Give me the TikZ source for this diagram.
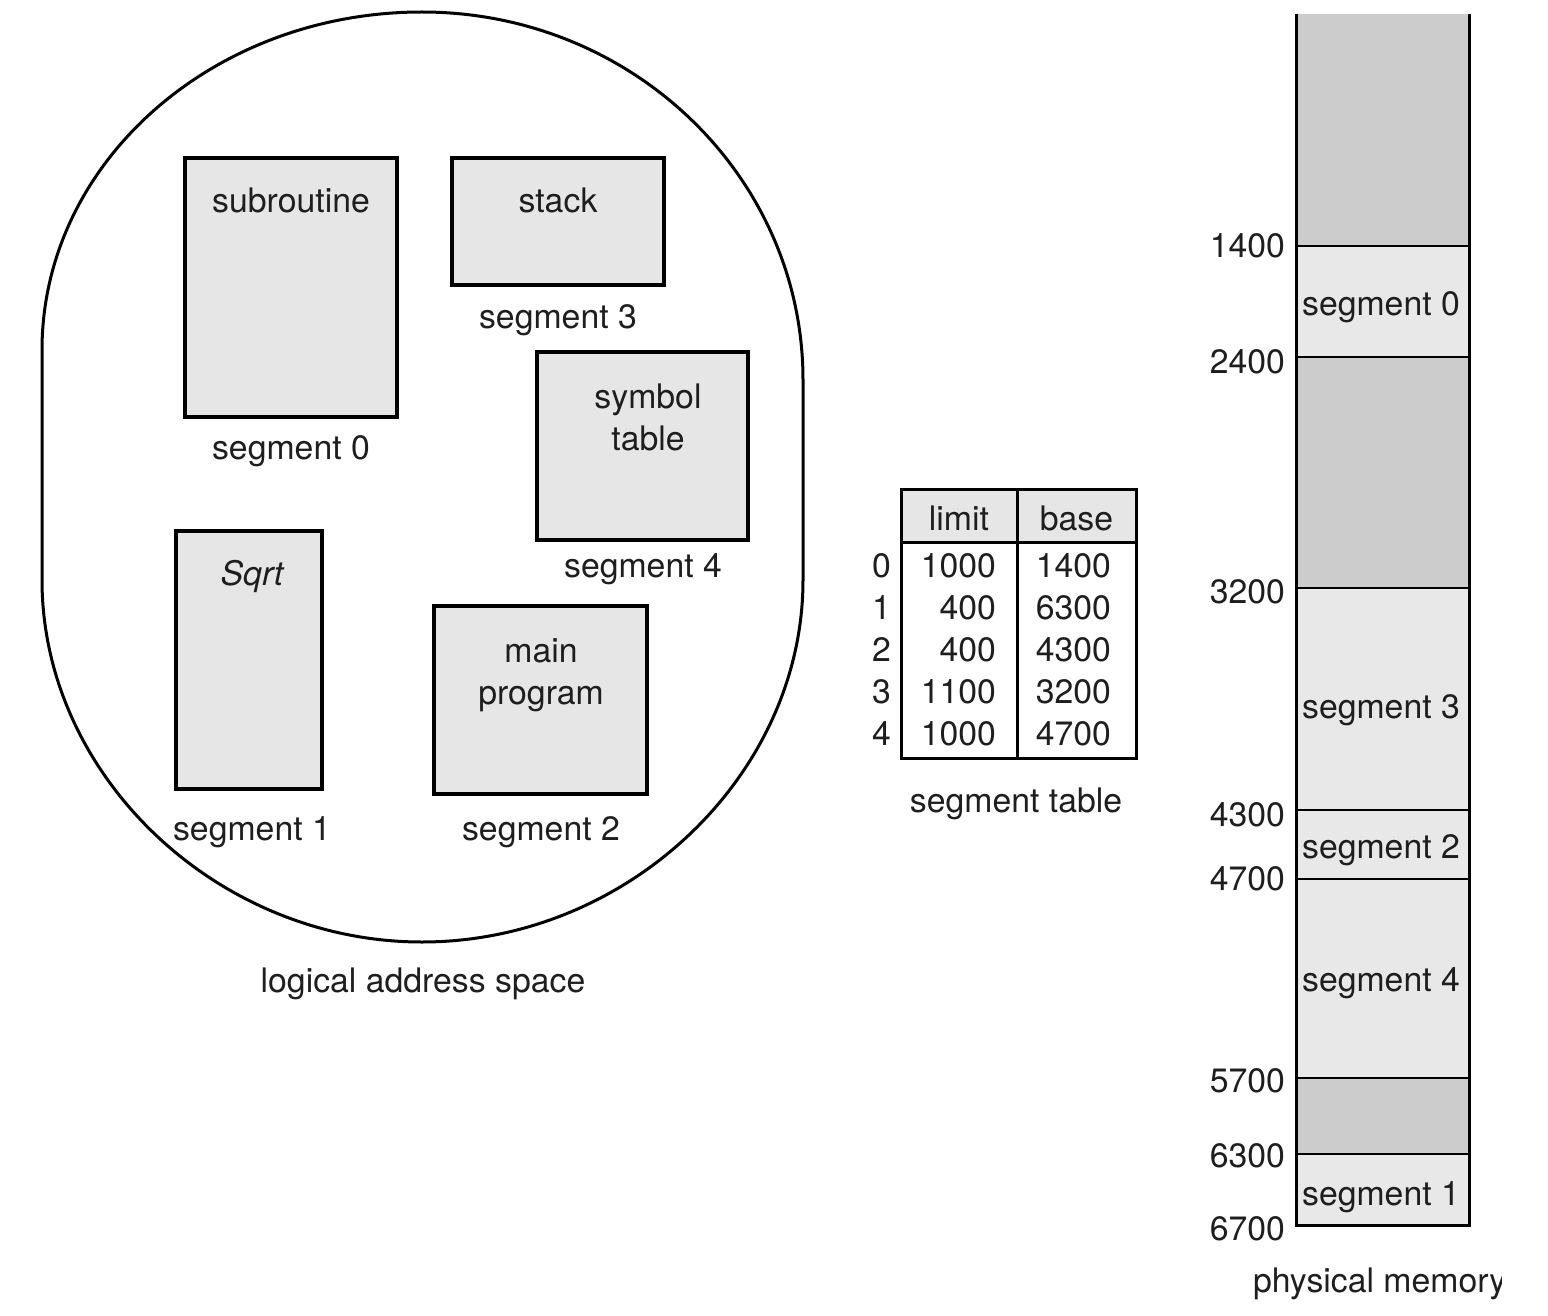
\documentclass[tikz,border=0pt]{standalone}
\usepackage{fontspec}
\setmainfont{TeX Gyre Heros}
\definecolor{boxgrey}{HTML}{E6E6E6}
\definecolor{memdark}{HTML}{CCCCCC}
\definecolor{memlight}{HTML}{E8E8E8}
\definecolor{ink}{HTML}{1E1E1E}
\begin{document}
\begin{tikzpicture}[x=1pt,y=-1pt,
  every node/.style={font=\fontsize{33.8}{40}\selectfont, text=ink, inner sep=0pt, outer sep=0pt},
  segbox/.style={draw=black, line width=3.5pt, fill=boxgrey},
  lbl/.style={anchor=base},
  num/.style={anchor=base east},
  cell/.style={draw=black, line width=3pt},
  band/.style={minimum width=173pt, inner sep=0pt},
  freeband/.style={band, fill=memdark},
  usedband/.style={band, fill=memlight},
  memline/.style={line width=3pt, draw=black},
  divline/.style={line width=2.2pt, draw=black}
]
\useasboundingbox (0,0) rectangle (1548,1316);

% ---- logical address space outline ----
\draw[line width=3pt] (42,580) -- (42,350)
  .. controls (42,163.3) and (212.1,12) .. (422,12)
  .. controls (632.4,12) and (803,176.8) .. (803,380)
  -- (803,580)
  .. controls (803,775.5) and (627.7,942) .. (422,942)
  .. controls (216.8,942) and (42,775.5) .. (42,580) -- cycle;

% ---- segments ----
\node[segbox, minimum width=212pt, minimum height=259pt] (sub) at (291,287.5) {};
\node[segbox, minimum width=212pt, minimum height=127pt] (stk) at (558,221.5) {};
\node[segbox, minimum width=211pt, minimum height=188pt] (sym) at (642.5,446) {};
\node[segbox, minimum width=146pt, minimum height=258pt] (sqr) at (249,660) {};
\node[segbox, minimum width=213pt, minimum height=188pt] (mainp) at (540.5,700) {};

\node[lbl] (subtxt) at (291,213) {subroutine};
\node[lbl] (seg0) at (291,459) {segment 0};
\node[lbl] (stktxt) at (558,213) {stack};
\node[lbl] (seg3) at (558,328) {segment 3};
\node[lbl] (symtxt1) at (648,408) {symbol};
\node[lbl] (symtxt2) at (648,450) {table};
\node[lbl] (seg4) at (643,577) {segment 4};
\node[lbl] (sqrtxt) at (252,585) {\itshape Sqrt};
\node[lbl] (seg1) at (252,840) {segment 1};
\node[lbl] (maintxt1) at (541,662) {main};
\node[lbl] (maintxt2) at (541,704) {program};
\node[lbl] (seg2) at (541,840) {segment 2};
\node[lbl] (las) at (423,992) {logical address space};

% ---- segment table ----
\node[cell, fill=boxgrey, minimum width=116pt, minimum height=53pt] (hlimit) at (959,515.5) {};
\node[cell, fill=boxgrey, minimum width=119pt, minimum height=53pt] (hbase) at (1076.5,515.5) {};
\node[cell, fill=white, minimum width=116pt, minimum height=216pt] (blimit) at (959,650) {};
\node[cell, fill=white, minimum width=119pt, minimum height=216pt] (bbase) at (1076.5,650) {};
\node[lbl] (limittxt) at (959,530) {limit};
\node[lbl] (basetxt) at (1076.5,530) {base};

\foreach \i/\lim/\bas [count=\k from 0] in {0/1000/1400,1/400/6300,2/400/4300,3/1100/3200,4/1000/4700}{
  \node[num] (idx\i) at (891,577+42*\k) {\i};
  \node[num] (lim\i) at (996,577+42*\k) {\lim};
  \node[num] (bas\i) at (1111,577+42*\k) {\bas};
}
\node[lbl] (sttxt) at (1016,812) {segment table};

% ---- physical memory ----
\node[freeband, minimum height=232pt] (free0) at (1382.5,130) {};
\node[usedband, minimum height=111pt] (mseg0) at (1382.5,301.5) {};
\node[freeband, minimum height=231pt] (free1) at (1382.5,472.5) {};
\node[usedband, minimum height=222pt] (mseg3) at (1382.5,699) {};
\node[usedband, minimum height=69pt] (mseg2) at (1382.5,844.5) {};
\node[usedband, minimum height=199pt] (mseg4) at (1382.5,978.5) {};
\node[freeband, minimum height=76pt] (free2) at (1382.5,1116) {};
\node[usedband, minimum height=71pt] (mseg1) at (1382.5,1189.5) {};

\foreach \b in {mseg0,free1,mseg3,mseg2,mseg4,free2,mseg1}{
  \draw[divline] (\b.north west) -- (\b.north east);
}
\draw[memline] (free0.north west) -- (mseg1.south west) -- (mseg1.south east) -- (free0.north east);

\node[lbl] (pm0) at (1381,316) {segment 0};
\node[lbl] (pm3) at (1381,718) {segment 3};
\node[lbl] (pm2) at (1381,858) {segment 2};
\node[lbl] (pm4) at (1381,991) {segment 4};
\node[lbl] (pm1) at (1381,1205) {segment 1};

\node[num] (a1400) at (1285,258) {1400};
\node[num] (a2400) at (1285,373) {2400};
\node[num] (a3200) at (1285,603) {3200};
\node[num] (a4300) at (1285,826) {4300};
\node[num] (a4700) at (1285,890) {4700};
\node[num] (a5700) at (1285,1092) {5700};
\node[num] (a6300) at (1285,1167) {6300};
\node[num] (a6700) at (1285,1240) {6700};

\begin{scope}
  \clip (1230,1250) rectangle (1501,1316);
  \node[anchor=base west] (pmtxt) at (1253,1292) {physical memory};
\end{scope}
\end{tikzpicture}
\end{document}
